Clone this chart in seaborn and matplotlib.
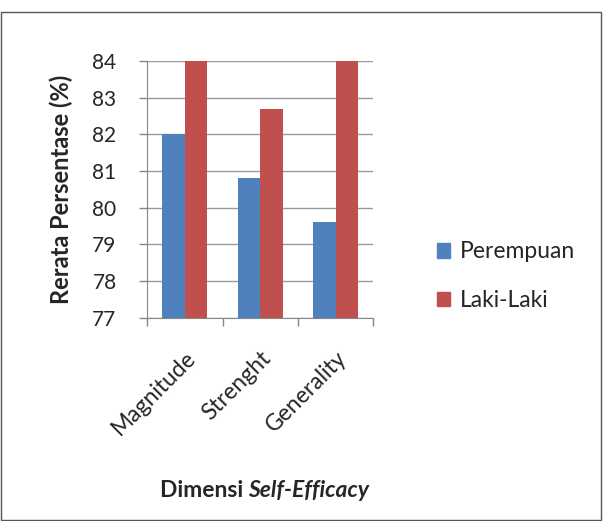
import numpy as np
import matplotlib.pyplot as plt
import seaborn as sns
import pandas as pd
from matplotlib.patches import Rectangle

# data
dimensions = ['Magnitude', 'Strenght', 'Generality']
perempuan = [82.0, 80.8, 79.6]
laki_laki = [84.0, 82.7, 84.0]
series_names = ['Perempuan', 'Laki-Laki']
y_ticks = [77, 78, 79, 80, 81, 82, 83, 84]

df = pd.DataFrame({
    'Dimensi': dimensions * 2,
    'Nilai': perempuan + laki_laki,
    'Jenis': [series_names[0]] * 3 + [series_names[1]] * 3,
})

sns.set_style('white')
plt.rcParams['font.family'] = ['Lato', 'DejaVu Sans']

colors = ['#4F81BD', '#C0504D']

fig = plt.figure(figsize=(6.03, 5.21), dpi=100)
ax = fig.add_axes([0.244, 0.39, 0.375, 0.493])

sns.barplot(data=df, x='Dimensi', y='Nilai', hue='Jenis', palette=colors,
            width=0.6, gap=0, saturation=1, linewidth=0, ax=ax, legend=False)

ax.set_ylim(77, 84)
ax.set_xlim(-0.5, 2.5)
ax.set_yticks(y_ticks)
ax.set_yticklabels([str(v) for v in y_ticks], fontsize=15)
ax.yaxis.grid(True, color='#9a9a9a', linewidth=1)
ax.set_axisbelow(True)

# tick marks at category boundaries, labels at centres
ax.set_xticks([-0.5, 0.5, 1.5, 2.5])
ax.set_xticklabels([])
ax.set_xticks([0, 1, 2], minor=True)
ax.set_xticklabels(dimensions, minor=True, rotation=45, ha='right',
                   rotation_mode='anchor', fontsize=16.5)
ax.tick_params(axis='x', which='major', direction='out', length=6, color='#868686', width=1)
ax.tick_params(axis='x', which='minor', length=0, pad=21)
ax.tick_params(axis='y', direction='out', length=6, color='#868686', width=1, pad=16)
ax.tick_params(axis='y', left=True)
ax.tick_params(axis='x', bottom=True)

for side in ['top', 'right']:
    ax.spines[side].set_visible(False)
for side in ['left', 'bottom']:
    ax.spines[side].set_color('#868686')

ax.set_xlabel('')
ax.set_ylabel('Rerata Persentase (%)', fontsize=17, fontweight='bold', labelpad=14)

fig.text(0.412, 0.058, 'Dimensi ', ha='right', va='center', fontsize=16.5, fontweight='bold')
fig.text(0.412, 0.058, 'Self-Efficacy', ha='left', va='center', fontsize=16.5,
         fontweight='bold', style='italic')

handles = [Rectangle((0, 0), 1, 1, color=c) for c in colors]
fig.legend(handles, series_names, loc='center left', bbox_to_anchor=(0.69, 0.47),
           frameon=False, fontsize=16.5, handlelength=0.6, handleheight=0.6,
           labelspacing=1.2, handletextpad=0.4)

fig.patches.append(Rectangle((0.002, 0.002), 0.994, 0.975, transform=fig.transFigure,
                             fill=False, edgecolor='#555555', linewidth=1))

fig.savefig('out.png', dpi=100)
